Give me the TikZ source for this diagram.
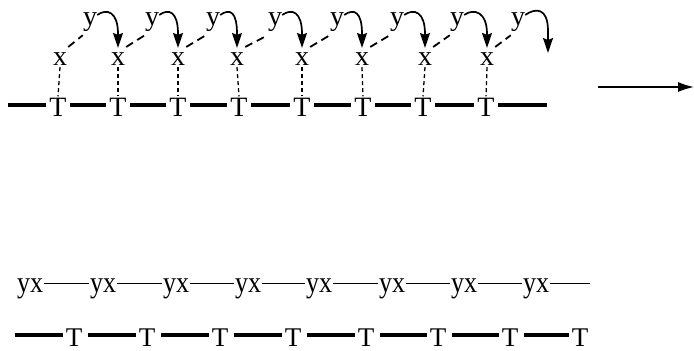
\documentclass[tikz,border=0pt]{standalone}
\usepackage{fontspec}
\setmainfont{Liberation Serif}
\usetikzlibrary{arrows.meta}
\newcommand\tallyx[1]{\scalebox{1}[1.15]{#1}}
\begin{document}
\begin{tikzpicture}[x=1pt,y=-1pt,
  bigtxt/.style={font=\fontsize{28}{28}\selectfont, inner sep=0pt, anchor=base},
  tnode/.style={bigtxt},
  letter/.style={bigtxt},
  yxnode/.style={font=\fontsize{26}{26}\selectfont, inner sep=1pt, anchor=base},
  bar/.style={line width=4.5pt},
  vdash/.style={line width=1.3pt, dash pattern=on 4pt off 3pt},
  ddash/.style={line width=1.8pt, dash pattern=on 8pt off 5pt},
  curv/.style={line width=1.7pt, -{Stealth[length=15pt,width=10pt,inset=2pt]}},
  thin/.style={line width=1pt}
]
\useasboundingbox (0,0) rectangle (694,351);

% ---- top row ----
\foreach \i/\cx in {1/58,2/118,3/178,4/239,5/302,6/363,7/423,8/486}{
  \node[tnode] (T\i) at (\cx,116) {T};
}
\foreach \i/\cx in {1/60,2/118,3/178,4/237,5/302,6/362,7/425,8/487}{
  \node[letter] (x\i) at (\cx,65) {x};
}
\foreach \i/\cx in {1/90,2/152,3/213,4/275,5/337,6/397,7/457,8/518}{
  \node[letter] (y\i) at (\cx,25) {y};
}
\coordinate (E) at (548,53);

\draw[bar] ([xshift=-41pt,yshift=2pt]T1.west) -- ([xshift=-3pt,yshift=2pt]T1.west);
\foreach \i/\j in {1/2,2/3,3/4,4/5,5/6,6/7,7/8}{
  \draw[bar] ([xshift=3pt,yshift=2pt]T\i.east) -- ([xshift=-3pt,yshift=2pt]T\j.west);
}
\draw[bar] ([xshift=3pt,yshift=2pt]T8.east) -- ([xshift=52pt,yshift=2pt]T8.east);

\foreach \i in {1,...,8}{
  \draw[vdash] ([yshift=-2pt]x\i.south) -- ([yshift=1pt]T\i.north);
  \draw[ddash] ([xshift=1pt,yshift=5pt]x\i.north east) -- ([yshift=-4pt]y\i.south west);
}
\foreach \i/\j in {1/2,2/3,3/4,4/5,5/6,6/7,7/8}{
  \draw[curv] ([yshift=-3pt]y\i.north east) .. controls +(10,-7) and +(0,-22) .. ([yshift=18pt]x\j.north) -- ([yshift=4pt]x\j.north);
}
\draw[curv] ([yshift=-3pt]y8.north east) .. controls +(10,-7) and +(0,-24) .. ([yshift=22pt]E) -- (E);

% ---- right arrow ----
\coordinate (A1) at (598,87);
\coordinate (A2) at (694,87);
\draw[line width=1.4pt, -{Latex[length=16pt,width=10pt]}] (A1) -- (A2);

% ---- bottom row ----
\foreach \i/\cx in {1/30,2/103,3/176,4/248,5/319,6/392,7/464,8/536}{
  \node[yxnode] (yx\i) at (\cx,292) {\tallyx{yx}};
}
\foreach \i/\j in {1/2,2/3,3/4,4/5,5/6,6/7,7/8}{
  \draw[thin] ([yshift=5pt]yx\i.east) -- ([yshift=5pt]yx\j.west);
}
\draw[thin] ([yshift=5pt]yx8.east) -- ([xshift=40pt,yshift=5pt]yx8.east);

\foreach \i/\cx in {1/74,2/147,3/220,4/293,5/366,6/438,7/510,8/580}{
  \node[tnode,font=\fontsize{27}{27}\selectfont] (B\i) at (\cx,346) {T};
}
\draw[bar,line width=4pt] ([xshift=-51pt,yshift=2pt]B1.west) -- ([xshift=-3pt,yshift=2pt]B1.west);
\foreach \i/\j in {1/2,2/3,3/4,4/5,5/6,6/7,7/8}{
  \draw[bar,line width=4pt] ([xshift=6pt,yshift=2pt]B\i.east) -- ([xshift=-3pt,yshift=2pt]B\j.west);
}
\end{tikzpicture}
\end{document}
